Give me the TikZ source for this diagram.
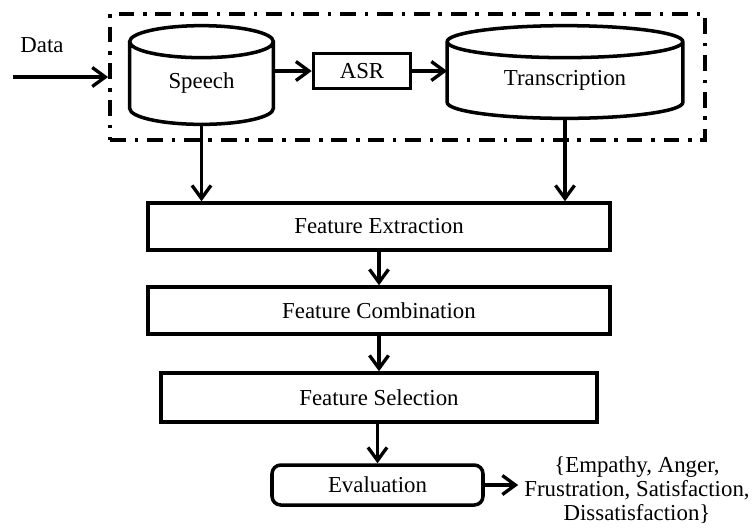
\documentclass[tikz,border=0pt]{standalone}
\usepackage{fontspec}
\setmainfont{Liberation Serif}
\usetikzlibrary{positioning, fit, calc, arrows.meta}

\begin{document}
\begin{tikzpicture}[font=\fontsize{13}{13.5}\selectfont]
        \tikzset{ blk/.style ={draw=black, line width=2pt, minimum width=9.24cm, minimum height=0.94cm, inner sep=0pt} }
        \tikzset{ body/.style ={inner sep=0pt} }
        \tikzset{ grp/.style ={draw=black, line width=2.2pt, dash pattern=on 9pt off 5pt on 2pt off 5pt, minimum width=11.9cm, minimum height=2.52cm} }

        \tikzstyle{lnk}=[-{Straight Barb[length=2.6mm,width=3.8mm]}, line width=1.9pt]

        % drum outline round a body node: #1 node, #2 lid radius
        \newcommand\drum[2]{
          \draw[line width=2pt] let \p1=(#1.west), \p2=(#1.east), \n1={(\x2-\x1)/2} in
            ([yshift=#2]#1.north) ellipse [x radius=\n1, y radius=#2]
            ([yshift=#2]#1.north west) -- (#1.south west)
            arc [start angle=180, end angle=360, x radius=\n1, y radius=#2]
            -- ([yshift=#2]#1.north east);
        }

        \newcommand\ctr{7.58}
        \newcommand\lid{0.32cm}

        \useasboundingbox (0,0) rectangle (15.04,-10.58);

        \node[grp] (frame) at (8.15,-1.54) {};

        \node[body, minimum width=2.86cm, minimum height=1.0cm] (speech) at (4.03,-1.66) {Speech};
        \node[draw=black, line width=2pt, minimum width=1.94cm, minimum height=0.7cm, inner sep=0pt] (asr) at (7.24,-1.42) {ASR};
        \node[body, minimum width=4.7cm, minimum height=0.88cm] (trans) at (11.3,-1.6) {Transcription};

        \drum{speech}{\lid}
        \drum{trans}{\lid}

        \node (data) at (0.84,-0.9) {Data};
        \coordinate (src) at (0.26,-1.54);

        \draw[lnk] (src) -- (frame.west);
        \draw[lnk] (speech.east |- asr.west) -- (asr.west);
        \draw[lnk] (asr.east) -- (asr.east -| trans.west);

        \node[blk] (fext) at (\ctr,-4.53) {Feature Extraction};
        \node[blk] (fcomb) at (\ctr,-6.21) {Feature Combination};
        \node[blk, minimum width=8.72cm, minimum height=0.98cm] (fsel) at (\ctr,-7.95) {Feature Selection};
        \node[blk, minimum width=4.22cm, minimum height=0.8cm, rounded corners=5pt] (eval) at (7.55,-9.7) {Evaluation};

        \node[align=center] (out) at (12.74,-9.8) {\{Empathy, Anger,\\Frustration, Satisfaction,\\Dissatisfaction\}};

        \draw[lnk] ([yshift=-\lid]speech.south) -- (speech.south |- fext.north);
        \draw[lnk] ([yshift=-\lid]trans.south) -- (trans.south |- fext.north);
        \draw[lnk] (fext) -- (fcomb);
        \draw[lnk] (fcomb) -- (fsel);
        \draw[lnk] (fsel.south -| eval.north) -- (eval.north);
        \draw[lnk] (eval.east) -- (eval.east -| out.west);
\end{tikzpicture}
\end{document}
